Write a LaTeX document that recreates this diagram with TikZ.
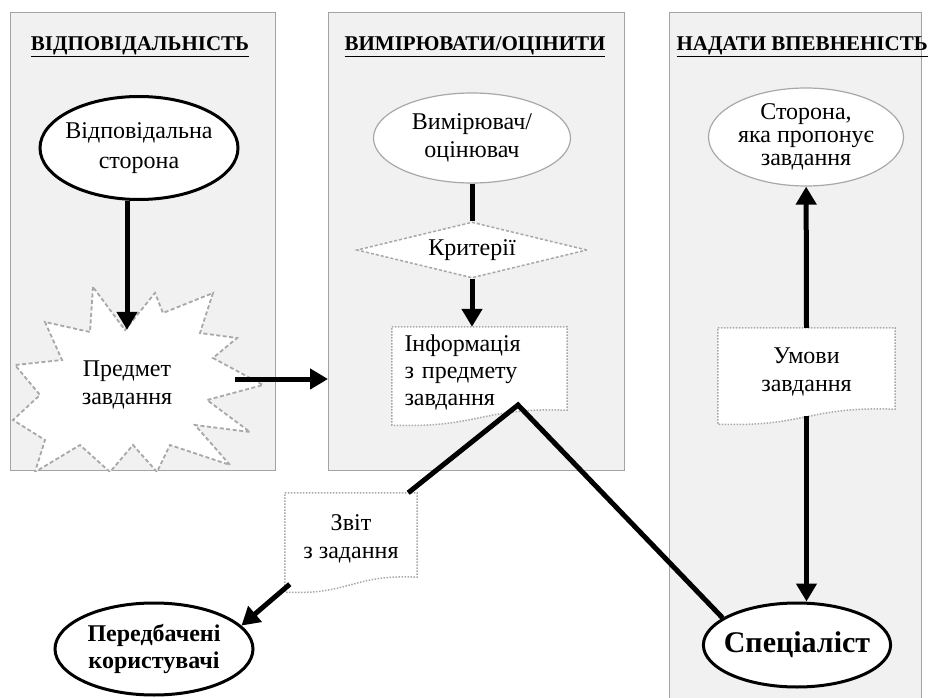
\documentclass[tikz,border=0pt]{standalone}
\usepackage{fontspec}
\setmainfont{Liberation Serif}
\usetikzlibrary{arrows.meta,shapes.geometric}
\definecolor{panelbg}{HTML}{F1F1F1}
\definecolor{panelline}{HTML}{A3A3A3}
\definecolor{dashline}{HTML}{A8A8A8}
\pgfdeclarelayer{back}
\pgfdeclarelayer{mid}
\pgfsetlayers{back,mid,main}

\begin{document}
\begin{tikzpicture}[x=1pt,y=-1pt,
    panel/.style={draw=panelline,line width=1.2pt,fill=panelbg,inner sep=0pt,anchor=north west},
    head/.style={font=\fontsize{21}{25}\selectfont\bfseries},
    txt/.style={font=\fontsize{24}{28}\selectfont,align=center},
    blackell/.style={txt,ellipse,draw,line width=3pt,fill=white,inner sep=0pt},
    grayell/.style={txt,ellipse,draw=dashline,line width=1.2pt,fill=white,inner sep=0pt},
    doc/.style={txt,inner sep=0pt},
    docline/.style={draw=dashline,line width=1.5pt,dash pattern=on 1.5pt off 1.5pt,fill=white},
    starline/.style={draw=dashline,line width=1.8pt,dash pattern=on 4pt off 2.5pt,fill=white},
    arr/.style={line width=5pt,-{Triangle[length=18pt,width=20pt]}},
    link/.style={line width=5pt},
]
\useasboundingbox (0,0) rectangle (930,698);

% три смуги
\begin{pgfonlayer}{back}
\node[panel,minimum width=265pt,minimum height=458pt] (p1) at (10,12) {};
\node[panel,minimum width=296pt,minimum height=458pt] (p2) at (328,12) {};
\node[panel,minimum width=252pt,minimum height=700pt] (p3) at (669,12) {};
\end{pgfonlayer}

\node[head] (h1) at (140,47) {\underline{ВІДПОВІДАЛЬНІСТЬ}};
\node[head] (h2) at (475,47) {\underline{ВИМІРЮВАТИ/ОЦІНИТИ}};
\node[head,anchor=west] (h3) at (673,47) {\underline{НАДАТИ ВПЕВНЕНІСТЬ}};

% вузли
\node[blackell,minimum width=198pt,minimum height=103pt,inner xsep=-5pt,font=\fontsize{24}{30}\selectfont] (resp) at (139,148) {Відповідальна\\сторона};
\node[txt,minimum width=216pt,minimum height=110pt] (subj) at (127,385) {Предмет\\завдання};
\node[grayell,minimum width=197pt,minimum height=90pt] (meas) at (472,138) {Вимірювач/\\оцінювач};
\node[txt,diamond,draw=dashline,line width=1.5pt,dash pattern=on 3pt off 2pt,fill=white,
      aspect=4,inner sep=0pt,minimum width=230pt,minimum height=56pt] (crit) at (472,250) {Критерії};
\node[doc,minimum width=175pt,minimum height=90pt,text width=150pt,align=left,font=\fontsize{24}{27}\selectfont] (info) at (479.5,372) {Інформація\\з предмету\\завдання};
\node[grayell,minimum width=195pt,minimum height=98pt,inner xsep=-3pt,font=\fontsize{24}{23}\selectfont] (prop) at (806,137) {Сторона,\\яка пропонує\\завдання};
\node[doc,minimum width=177pt,minimum height=88pt] (terms) at (806.5,372) {Умови\\завдання};
\node[doc,minimum width=132pt,minimum height=91pt] (report) at (351,538.5) {Звіт\\з задання};
\node[blackell,minimum width=198pt,minimum height=92pt,font=\fontsize{24}{27}\selectfont\bfseries] (users) at (154,649) {Передбачені\\користувачі};
\node[blackell,minimum width=181pt,minimum height=84pt,inner xsep=-7pt,font=\fontsize{30}{34}\selectfont\bfseries] (spec) at (797,645) {Спеціаліст};

% зірка і документи
\begin{pgfonlayer}{mid}
\begin{scope}
\clip (p1.north west) rectangle (p1.south east);
\draw[starline] (93,287) -- (90,332) -- (45,322) -- (62,360) -- (15,365) -- (40,395) -- (13,420)
  -- (45,440) -- (35,472) -- (80,445) -- (110,472) -- (133,445) -- (157,472) -- (170,445)
  -- (230,465) -- (195,425) -- (250,432) -- (207,400) -- (263,385) -- (213,358) -- (237,338)
  -- (200,333) -- (213,293) -- (163,313) -- (155,293) -- (125,330) -- cycle;
\end{scope}
\foreach \d in {info,terms,report}
  \draw[docline] (\d.north west) -- (\d.north east) -- ([yshift=7pt]\d.south east)
    .. controls ([yshift=10pt]\d.south) and ([yshift=-11pt]\d.south) .. ([yshift=-8pt]\d.south west) -- cycle;
\end{pgfonlayer}

% стрілки
\coordinate (peak) at (518,405);
\draw[arr] (resp.south -| subj.north) -- (subj.north);
\draw[arr] ([yshift=6pt]subj.east) -- ([yshift=6pt]subj.east -| p2.west);
\draw[link] (meas.south) -- (crit.north);
\draw[arr] (crit.south) -- (crit.south |- info.north);
\draw[link] ([xshift=-9pt]report.north east) -- (peak) -- (spec.160);
\draw[arr] (terms.north) -- (prop);
\draw[arr] (terms.south) -- (terms.south |- spec.north);
\draw[arr] ([xshift=5pt]report.south west) -- (users.15);
\end{tikzpicture}
\end{document}
